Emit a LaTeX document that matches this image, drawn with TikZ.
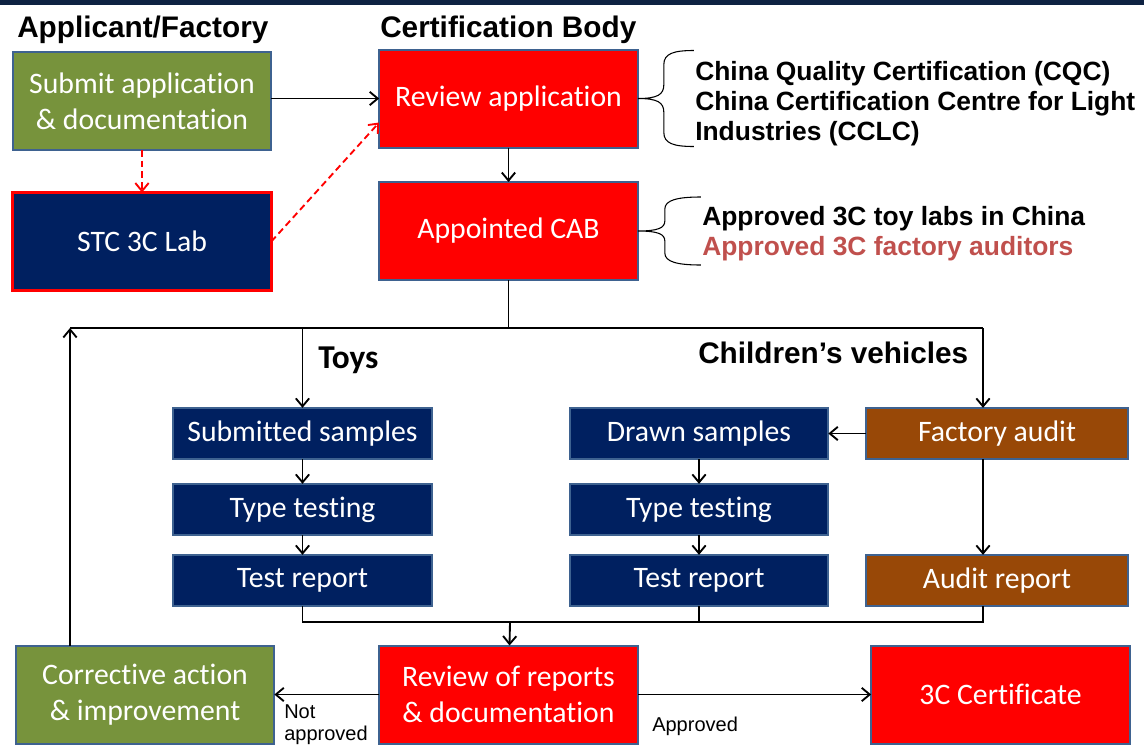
\documentclass[tikz,border=0pt]{standalone}
\usepackage{fontspec}
\setmainfont{Liberation Sans}
\newfontfamily\calib[Ligatures=NoCommon]{Carlito}
\usetikzlibrary{arrows.meta}

\definecolor{appgreen}{HTML}{77933C}
\definecolor{labnavy}{HTML}{002060}
\definecolor{auditbrown}{HTML}{984807}
\definecolor{edgeblue}{HTML}{3E6290}
\definecolor{notered}{HTML}{C0504D}
\definecolor{topband}{HTML}{0E2242}

\tikzset{
  stage/.style={draw=edgeblue, line width=1.5pt, text=white, align=center, inner sep=0pt, outer sep=0pt, font=\calib\fontsize{22.3}{27}\selectfont},
  bigstage/.style={stage, minimum width=194pt, minimum height=73.5pt},
  smallstage/.style={stage, minimum width=194pt, minimum height=38.5pt},
  head/.style={font=\bfseries\fontsize{22.3}{26}\selectfont, anchor=base west, inner sep=0pt},
  side/.style={font=\bfseries\fontsize{19.8}{22.5}\selectfont, anchor=base west, inner sep=0pt},
  note/.style={font=\fontsize{15}{16.5}\selectfont, inner sep=0pt},
  link/.style={line width=1.4pt},
  flow/.style={link, -{Straight Barb[length=6pt,width=10pt]}},
  labflow/.style={flow, red, dash pattern=on 5pt off 3pt},
  brace/.style={line width=0.8pt}
}

\begin{document}
\begin{tikzpicture}[x=0.75pt,y=-0.75pt]
\useasboundingbox (0,0) rectangle (1144,746);
\fill[topband] (0,0) rectangle (1144,5);

\node[head] (hApp) at (17,37) {Applicant/Factory};
\node[head] (hCB) at (380,37) {Certification Body};
\node[head, font=\calib\bfseries\fontsize{25}{30}\selectfont] (hToys) at (318,368) {Toys};
\node[head] (hKids) at (698,363) {Children’s vehicles};

\node[bigstage, fill=appgreen] (sub) at (142,101) {Submit application\\\& documentation};
\node[bigstage, fill=labnavy, draw=red, line width=2.5pt] (stc) at (142,241.5) {STC 3C Lab};
\node[bigstage, fill=red] (rev) at (508.5,98.5) {Review application};
\node[bigstage, fill=red] (cab) at (508.5,231) {Appointed CAB};

\node[side] (cqc) at (695,80) {China Quality Certification (CQC)};
\node[side] (cclc) at (695,110) {China Certification Centre for Light};
\node[side] (cclcb) at (695,140) {Industries (CCLC)};
\node[side] (toylab) at (702,225) {Approved 3C toy labs in China};
\node[side, text=notered] (auditor) at (702,255) {Approved 3C factory auditors};

\node[smallstage, fill=labnavy] (smp) at (302.5,433.5) {Submitted samples};
\node[smallstage, fill=labnavy] (tt1) at (302.5,509.5) {Type testing};
\node[smallstage, fill=labnavy] (tr1) at (302.5,580.5) {Test report};
\node[smallstage, fill=labnavy] (drw) at (699,433.5) {Drawn samples};
\node[smallstage, fill=labnavy] (tt2) at (699,509.5) {Type testing};
\node[smallstage, fill=labnavy] (tr2) at (699,580.5) {Test report};
\node[smallstage, fill=auditbrown, minimum width=196pt] (fac) at (997,433.5) {Factory audit};
\node[smallstage, fill=auditbrown, minimum width=196pt] (aud) at (997,580.5) {Audit report};

\node[bigstage, fill=appgreen] (cor) at (145,694.5) {Corrective action\\\& improvement};
\node[bigstage, fill=red] (ror) at (508.5,694.5) {Review of reports\\\& documentation};
\node[bigstage, fill=red] (cert) at (1000.5,694.5) {3C Certificate};

\node[note, anchor=north west, align=left] (notok) at (284,704) {Not\\approved};
\node[note, anchor=base west] (ok) at (652,731) {Approved};

\draw[flow] (sub.east |- rev.west) -- (rev.west);
\draw[labflow] (sub) -- (stc);
\draw[labflow] (stc.east) -- ([yshift=-18pt]rev.west);
\draw[flow] (rev) -- (cab);

\begin{scope}[shift={(rev.east)}]
\draw[brace] (56,-48) .. controls (36,-48) and (26,-45) .. (26,-34) -- (26,-14) .. controls (26,-4) and (20,0) .. (0,0)
  .. controls (20,0) and (26,4) .. (26,14) -- (26,34) .. controls (26,45) and (36,48) .. (56,48);
\end{scope}
\begin{scope}[shift={(cab.east)}]
\draw[brace] (63,-34) .. controls (40,-34) and (27,-31) .. (27,-22) -- (27,-10) .. controls (27,-3) and (20,0) .. (0,0)
  .. controls (20,0) and (27,3) .. (27,10) -- (27,22) .. controls (27,31) and (40,34) .. (63,34);
\end{scope}

\coordinate (loop) at (70,328);
\coordinate (fcol) at (983,328);
\draw[link] (cab) -- (cab |- loop);
\draw[link] (loop) -- (fcol);
\draw[flow] (cor.north -| loop) -- (loop);
\draw[flow] (smp |- loop) -- (smp);
\draw[flow] (fcol) -- (fcol |- fac.north);
\draw[flow] (fac) -- (drw);
\draw[flow] (fcol |- fac.south) -- (fcol |- aud.north);

\draw[flow] (smp) -- (tt1);
\draw[flow] (tt1) -- (tr1);
\draw[flow] (drw) -- (tt2);
\draw[flow] (tt2) -- (tr2);

\coordinate (merge) at (510,622);
\draw[link] (tr1) -- (tr1 |- merge) -- (fcol |- merge) -- (fcol |- aud.south);
\draw[link] (tr2) -- (tr2 |- merge);
\draw[flow] (merge) -- (ror);

\draw[flow] (ror) -- (cor);
\draw[flow] (ror) -- (cert);

\end{tikzpicture}
\end{document}
